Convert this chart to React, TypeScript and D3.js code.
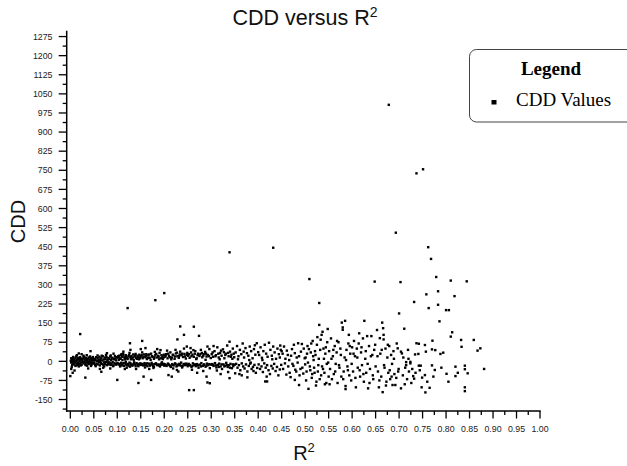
import React from 'react';
import * as d3 from 'd3';

type Pt = [number, number];

// R², CDD pairs, grouped by R² range
const points000to005: Pt[] = [
  [0.001,2],[0.002,-5],[0.003,6],[0.004,-2],[0.005,10],[0.006,-8],[0.007,3],[0.008,-12],[0.009,8],[0.010,-3],
  [0.011,14],[0.012,0],[0.013,-9],[0.014,5],[0.015,-15],[0.016,12],[0.017,-4],[0.018,7],[0.019,-11],[0.020,1],
  [0.021,16],[0.022,-6],[0.023,9],[0.024,-14],[0.025,4],[0.026,-1],[0.027,11],[0.028,-8],[0.029,18],[0.030,-3],
  [0.031,6],[0.032,-12],[0.033,13],[0.034,-5],[0.035,2],[0.036,-17],[0.037,9],[0.038,-7],[0.039,15],[0.040,0],
  [0.041,-10],[0.042,7],[0.043,-2],[0.044,12],[0.045,-13],[0.046,4],[0.047,-6],[0.048,17],[0.049,-9],[0.050,3],
  [0.002,12],[0.004,-14],[0.006,17],[0.008,0],[0.011,-18],[0.013,20],[0.016,-7],[0.019,14],[0.022,-16],[0.024,10],
  [0.027,-4],[0.030,15],[0.033,-15],[0.036,8],[0.039,-9],[0.042,19],[0.045,-4],[0.048,9],[0.003,-22],[0.018,-20],
  [0.028,22],[0.035,24],[0.044,-18],[0.014,24],
  [0.000,-58],[0.005,-45],[0.002,-30],[0.009,-36],[0.021,107],[0.018,31],[0.032,-64],[0.043,40],[0.024,28],[0.038,-28],
];

const points005to010: Pt[] = [
  [0.051,-6],[0.052,10],[0.053,-14],[0.054,4],[0.055,16],[0.056,-9],[0.057,1],[0.058,13],[0.059,-12],[0.060,6],
  [0.061,-3],[0.062,18],[0.063,-16],[0.064,8],[0.065,-7],[0.066,12],[0.067,-10],[0.068,3],[0.069,20],[0.070,-13],
  [0.071,7],[0.072,-4],[0.073,15],[0.074,-11],[0.075,9],[0.076,-2],[0.077,17],[0.078,-15],[0.079,5],[0.080,-8],
  [0.081,13],[0.082,-12],[0.083,10],[0.084,-5],[0.085,19],[0.086,-14],[0.087,6],[0.088,-9],[0.089,14],[0.090,-3],
  [0.091,11],[0.092,-16],[0.093,8],[0.094,-7],[0.095,21],[0.096,-11],[0.097,4],[0.098,-13],[0.099,16],[0.100,-6],
  [0.054,-19],[0.058,23],[0.063,2],[0.067,22],[0.072,-20],[0.076,25],[0.081,-1],[0.086,23],[0.091,-19],[0.096,12],
  [0.066,-41],[0.063,-30],[0.078,32],[0.085,-28],[0.100,-73],[0.092,30],[0.070,-25],
];

const points010to015: Pt[] = [
  [0.101,15],[0.104,22],[0.107,10],[0.110,18],[0.113,26],[0.116,12],[0.119,20],[0.122,9],[0.125,24],[0.128,16],
  [0.131,11],[0.134,27],[0.137,19],[0.140,13],[0.143,22],[0.146,8],[0.149,17],[0.103,6],[0.112,30],[0.121,14],
  [0.130,21],[0.139,29],[0.148,12],[0.108,25],[0.117,7],[0.126,33],[0.135,5],[0.144,18],
  [0.102,-9],[0.105,-14],[0.108,-6],[0.111,-12],[0.114,-18],[0.117,-8],[0.120,-15],[0.123,-10],[0.126,-5],[0.129,-13],
  [0.132,-17],[0.135,-9],[0.138,-12],[0.141,-7],[0.144,-16],[0.147,-11],[0.150,-14],[0.106,-20],[0.118,-3],[0.127,-21],
  [0.136,-4],[0.145,-19],
  [0.122,209],[0.127,71],[0.128,45],[0.120,-25],[0.145,-85],[0.153,80],[0.150,48],[0.113,38],[0.140,-30],[0.116,-30],
];

const points015to020: Pt[] = [
  [0.151,20],[0.154,12],[0.157,27],[0.160,16],[0.163,9],[0.166,23],[0.169,14],[0.172,30],[0.175,18],[0.178,10],
  [0.181,25],[0.184,15],[0.187,21],[0.190,33],[0.193,12],[0.196,19],[0.199,26],[0.153,35],[0.162,28],[0.171,6],
  [0.180,37],[0.189,8],[0.198,14],
  [0.152,-10],[0.155,-16],[0.158,-7],[0.161,-13],[0.164,-19],[0.167,-9],[0.170,-14],[0.173,-6],[0.176,-18],[0.179,-11],
  [0.182,-8],[0.185,-15],[0.188,-12],[0.191,-20],[0.194,-9],[0.197,-13],[0.200,-17],[0.159,-24],[0.177,-26],[0.195,-4],
  [0.156,-60],[0.172,-73],[0.181,240],[0.200,268],[0.192,44],[0.185,48],[0.168,-30],[0.160,52],
];

const points020to025: Pt[] = [
  [0.201,18],[0.204,28],[0.207,12],[0.210,22],[0.213,35],[0.216,15],[0.219,26],[0.222,10],[0.225,31],[0.228,20],
  [0.231,14],[0.234,38],[0.237,24],[0.240,17],[0.243,29],[0.246,11],[0.249,33],[0.206,42],[0.215,8],[0.224,45],
  [0.233,27],[0.242,50],
  [0.202,-12],[0.205,-18],[0.208,-9],[0.211,-15],[0.214,-22],[0.217,-11],[0.220,-16],[0.223,-8],[0.226,-20],[0.229,-13],
  [0.232,-10],[0.235,-17],[0.238,-24],[0.241,-12],[0.244,-15],[0.247,-9],[0.250,-19],[0.219,-28],[0.236,-5],
  [0.209,-54],[0.216,-60],[0.227,-34],[0.228,86],[0.242,104],[0.234,137],[0.253,-113],[0.230,-40],[0.248,58],
];

const points025to030: Pt[] = [
  [0.251,22],[0.254,14],[0.257,35],[0.260,26],[0.263,18],[0.266,40],[0.269,12],[0.272,30],[0.275,21],[0.278,45],
  [0.281,16],[0.284,28],[0.287,37],[0.290,19],[0.293,25],[0.296,48],[0.299,13],[0.256,52],[0.268,9],[0.280,33],
  [0.292,58],[0.262,44],[0.288,6],
  [0.252,-10],[0.255,-16],[0.258,-22],[0.261,-8],[0.264,-14],[0.267,-19],[0.270,-11],[0.273,-25],[0.276,-13],[0.279,-7],
  [0.282,-18],[0.285,-12],[0.288,-21],[0.291,-9],[0.294,-15],[0.297,-27],[0.300,-13],[0.259,-33],[0.283,-38],
  [0.263,-113],[0.263,136],[0.274,100],[0.292,-83],[0.297,-86],[0.290,-60],[0.270,-45],
];

const points030to035: Pt[] = [
  [0.301,28],[0.304,18],[0.307,40],[0.310,24],[0.313,55],[0.316,15],[0.319,33],[0.322,22],[0.325,47],[0.328,12],
  [0.331,30],[0.334,62],[0.337,20],[0.340,38],[0.343,26],[0.346,50],[0.349,16],[0.305,60],[0.318,8],[0.327,36],
  [0.339,77],[0.345,10],
  [0.302,-11],[0.305,-18],[0.308,-7],[0.311,-24],[0.314,-14],[0.317,-9],[0.320,-20],[0.323,-30],[0.326,-12],[0.329,-17],
  [0.332,-6],[0.335,-22],[0.338,-15],[0.341,-10],[0.344,-27],[0.347,-19],[0.350,-13],[0.312,-36],[0.336,-42],
  [0.339,428],[0.339,-66],[0.351,-47],[0.320,-50],
];

const points035to040: Pt[] = [
  [0.352,35],[0.355,60],[0.358,20],[0.361,45],[0.364,28],[0.367,70],[0.370,15],[0.373,52],[0.376,32],[0.379,22],
  [0.382,58],[0.385,40],[0.388,12],[0.391,48],[0.394,26],[0.397,71],[0.400,36],[0.357,8],[0.369,38],[0.381,5],
  [0.393,63],
  [0.353,-10],[0.356,-25],[0.359,-15],[0.362,-35],[0.365,-8],[0.368,-20],[0.371,-28],[0.374,-12],[0.377,-40],[0.380,-18],
  [0.383,-9],[0.386,-30],[0.389,-22],[0.392,-14],[0.395,-45],[0.398,-26],[0.360,-50],[0.384,-5],
  [0.377,-63],[0.365,-55],[0.390,-38],
];

const points040to045: Pt[] = [
  [0.402,25],[0.405,55],[0.408,14],[0.411,40],[0.414,65],[0.417,30],[0.420,18],[0.423,73],[0.426,45],[0.429,22],
  [0.432,58],[0.435,35],[0.438,10],[0.441,50],[0.444,28],[0.447,62],[0.450,40],[0.409,5],[0.430,8],[0.446,15],
  [0.401,-12],[0.404,-30],[0.407,-20],[0.410,-42],[0.413,-8],[0.416,-25],[0.419,-15],[0.422,-35],[0.425,-50],[0.428,-18],
  [0.431,-28],[0.434,-10],[0.437,-38],[0.440,-22],[0.443,-55],[0.446,-32],[0.449,-14],[0.418,-60],
  [0.432,446],[0.415,-79],[0.419,-79],[0.448,45],
];

const points045to050: Pt[] = [
  [0.452,30],[0.455,58],[0.458,10],[0.461,42],[0.464,-20],[0.467,-45],[0.470,22],[0.473,-10],[0.476,65],[0.479,-33],
  [0.482,15],[0.485,71],[0.488,-55],[0.491,38],[0.494,-25],[0.497,50],[0.500,-12],[0.453,-30],[0.457,-8],[0.460,-52],
  [0.463,25],[0.466,5],[0.469,-62],[0.472,48],[0.475,-18],[0.478,32],[0.481,-40],[0.484,-5],[0.487,20],[0.490,-30],
  [0.493,68],[0.496,-48],[0.499,12],[0.478,-73],[0.487,-93],
];

const points050to055: Pt[] = [
  [0.501,15],[0.503,-40],[0.505,60],[0.507,-108],[0.509,323],[0.510,-20],[0.512,35],[0.514,-65],[0.516,80],[0.518,5],
  [0.520,-45],[0.522,25],[0.524,-80],[0.526,95],[0.528,-15],[0.530,229],[0.530,143],[0.532,45],[0.534,-55],[0.535,104],
  [0.537,116],[0.538,-30],[0.540,10],[0.542,-90],[0.544,55],[0.546,-10],[0.548,127],[0.550,-60],[0.502,-75],[0.504,30],
  [0.506,-5],[0.508,48],[0.511,-35],[0.513,70],[0.515,-50],[0.517,20],[0.519,-25],[0.521,40],[0.523,-95],[0.525,65],
  [0.527,-40],[0.529,10],[0.531,-70],[0.533,85],[0.536,-20],[0.539,50],[0.541,-45],[0.543,30],[0.545,-85],[0.547,75],
  [0.549,-5],
];

const points055to060: Pt[] = [
  [0.551,40],[0.553,-30],[0.555,90],[0.557,-70],[0.559,20],[0.561,-50],[0.563,60],[0.565,-10],[0.567,35],[0.569,-85],
  [0.571,75],[0.573,-25],[0.575,50],[0.577,-60],[0.578,152],[0.580,133],[0.580,124],[0.582,-40],[0.584,15],[0.585,159],
  [0.586,-97],[0.586,-109],[0.588,45],[0.590,-20],[0.592,70],[0.593,104],[0.594,-55],[0.596,30],[0.598,-75],[0.600,55],
  [0.552,-90],[0.556,10],[0.560,45],[0.564,-40],[0.568,80],[0.572,-15],[0.576,25],[0.581,-70],[0.587,5],[0.591,-35],
  [0.595,60],[0.599,-10],
];

const points060to065: Pt[] = [
  [0.602,-40],[0.604,80],[0.606,20],[0.608,-102],[0.610,50],[0.612,-25],[0.614,70],[0.615,110],[0.617,-60],[0.619,35],
  [0.621,-15],[0.623,90],[0.625,-80],[0.626,159],[0.628,10],[0.630,-45],[0.632,99],[0.634,-106],[0.636,60],[0.638,-30],
  [0.641,99],[0.643,25],[0.645,-70],[0.647,45],[0.648,313],[0.650,-20],[0.603,30],[0.607,-65],[0.611,15],[0.616,-35],
  [0.620,55],[0.624,-50],[0.629,40],[0.633,-10],[0.637,-85],[0.640,20],[0.644,-55],[0.649,65],
];

const points065to070: Pt[] = [
  [0.653,123],[0.655,-40],[0.657,-102],[0.659,91],[0.660,30],[0.662,-60],[0.664,152],[0.665,-121],[0.666,130],[0.667,104],
  [0.667,86],[0.669,-25],[0.671,50],[0.673,-80],[0.675,15],[0.677,-45],[0.678,1007],[0.679,60],[0.681,-70],[0.683,25],
  [0.685,-10],[0.686,-93],[0.688,40],[0.690,-50],[0.692,-93],[0.693,505],[0.695,70],[0.697,51],[0.699,-30],[0.700,188],
  [0.654,20],[0.658,-75],[0.663,45],[0.668,-15],[0.672,-95],[0.676,65],[0.680,-35],[0.684,-60],[0.689,10],[0.694,-65],
  [0.698,-40],
];

const points070to075: Pt[] = [
  [0.703,311],[0.704,38],[0.704,-106],[0.706,31],[0.708,-55],[0.711,128],[0.713,-25],[0.715,-3],[0.715,-15],[0.717,-70],
  [0.719,45],[0.721,-40],[0.724,-2],[0.724,-8],[0.726,-85],[0.730,-58],[0.732,-68],[0.732,233],[0.734,27],[0.737,738],
  [0.737,71],[0.741,29],[0.742,69],[0.742,-17],[0.746,-17],[0.748,-102],[0.749,-64],[0.751,754],[0.709,15],[0.712,-90],
  [0.720,10],[0.728,-30],[0.735,-45],[0.744,-35],
];

const points075to080: Pt[] = [
  [0.755,64],[0.755,-54],[0.756,-122],[0.757,38],[0.758,263],[0.762,448],[0.763,209],[0.765,-104],[0.768,402],[0.770,47],
  [0.770,-16],[0.771,81],[0.776,-34],[0.777,44],[0.779,331],[0.783,222],[0.783,275],[0.786,157],[0.788,29],[0.794,34],
  [0.800,201],[0.801,-49],[0.760,-80],[0.773,-60],[0.790,-25],
];

const points080to090: Pt[] = [
  [0.806,201],[0.810,97],[0.810,317],[0.813,114],[0.818,256],[0.820,-21],[0.820,-58],[0.825,-45],[0.832,84],[0.833,57],
  [0.840,-17],[0.840,-31],[0.840,-102],[0.840,-117],[0.844,314],[0.846,-47],[0.859,84],[0.867,42],[0.873,51],[0.881,-30],
  [0.805,-80],
];

// extra points filling the dense double band between 0.10 and 0.35
const bandPoints010to035: Pt[] = [
  [0.102,20],[0.105,12],[0.109,28],[0.111,5],[0.115,16],[0.118,24],[0.124,19],[0.129,8],[0.133,15],[0.138,23],
  [0.142,10],[0.147,26],[0.104,-11],[0.109,-16],[0.113,-7],[0.119,-12],[0.124,-17],[0.128,-8],[0.133,-13],[0.139,-19],
  [0.143,-10],[0.149,-8],
  [0.152,24],[0.156,17],[0.161,22],[0.165,13],[0.168,27],[0.174,20],[0.179,16],[0.183,29],[0.188,18],[0.194,24],
  [0.197,9],[0.154,-12],[0.159,-15],[0.163,-8],[0.169,-17],[0.174,-12],[0.178,-21],[0.183,-10],[0.189,-16],[0.193,-13],
  [0.199,-10],
  [0.203,22],[0.208,30],[0.212,16],[0.218,24],[0.223,19],[0.227,34],[0.232,21],[0.238,30],[0.244,19],[0.248,25],
  [0.203,-15],[0.209,-12],[0.213,-18],[0.218,-14],[0.224,-11],[0.228,-17],[0.233,-14],[0.239,-19],[0.243,-10],[0.249,-14],
  [0.253,28],[0.258,20],[0.265,30],[0.271,24],[0.277,28],[0.283,22],[0.289,30],[0.295,20],[0.254,-14],[0.260,-18],
  [0.266,-12],[0.272,-16],[0.278,-20],[0.284,-14],[0.290,-17],[0.296,-11],
  [0.303,35],[0.309,20],[0.315,30],[0.321,42],[0.330,25],[0.336,33],[0.342,18],[0.348,30],[0.304,-14],[0.310,-16],
  [0.316,-22],[0.322,-12],[0.328,-20],[0.334,-15],[0.340,-25],[0.346,-12],
];

const allPoints: Pt[] = [
  ...points000to005, ...points005to010, ...points010to015, ...points015to020,
  ...points020to025, ...points025to030, ...points030to035, ...points035to040,
  ...points040to045, ...points045to050, ...points050to055, ...points055to060,
  ...points060to065, ...points065to070, ...points070to075, ...points075to080,
  ...points080to090, ...bandPoints010to035,
];

const yTickValues = [-150,-75,0,75,150,225,300,375,450,525,600,675,750,825,900,975,1050,1125,1200,1275];
const yMinorValues = [-187.5,-112.5,-37.5,37.5,112.5,187.5,262.5,337.5,412.5,487.5,562.5,637.5,712.5,787.5,862.5,937.5,1012.5,1087.5,1162.5,1237.5];
const xTickValues = [0,0.05,0.1,0.15,0.2,0.25,0.3,0.35,0.4,0.45,0.5,0.55,0.6,0.65,0.7,0.75,0.8,0.85,0.9,0.95,1.0];
const xMinorValues = [0.025,0.075,0.125,0.175,0.225,0.275,0.325,0.375,0.425,0.475,0.525,0.575,0.625,0.675,0.725,0.775,0.825,0.875,0.925,0.975];

const W = 627;
const H = 466;
const SANS = '"Liberation Sans", Arial, sans-serif';
const SERIF = '"Liberation Serif", "Times New Roman", serif';

export default function App() {
  const x = d3.scaleLinear().domain([-0.0077, 1.0]).range([66.7, 540]);
  const y = d3.scaleLinear().domain([-195, 1298]).range([411, 30.7]);
  const x0 = x.range()[0];
  const yBottom = y.range()[0];
  const yTop = y.range()[1];
  const s = 2.4;

  return (
    <svg width={W} height={H} style={{ position: 'absolute', left: 0, top: 0, background: '#fff' }}>
      <rect x={0} y={0} width={W} height={H} fill="#fff" />
      {/* title */}
      <text x={305} y={25} textAnchor="middle" fontFamily={SANS} fontSize={21.5} fill="#111">
        CDD versus R<tspan dy={-8} fontSize={14}>2</tspan>
      </text>

      {/* y axis */}
      <line x1={x0} x2={x0} y1={yTop} y2={yBottom + 0.75} stroke="#000" strokeWidth={1.5} />
      {yTickValues.map((v) => (
        <g key={'yt' + v}>
          <line x1={x0 - 8} x2={x0} y1={y(v)} y2={y(v)} stroke="#000" strokeWidth={1.3} />
          <text x={52.5} y={y(v) + 3.2} textAnchor="end" fontFamily={SANS} fontSize={8.8} fill="#222">{v}</text>
        </g>
      ))}
      {yMinorValues.map((v) => (
        <line key={'ym' + v} x1={x0 - 4} x2={x0} y1={y(v)} y2={y(v)} stroke="#000" strokeWidth={1.3} />
      ))}

      {/* x axis */}
      <line x1={x0 - 0.75} x2={x(1.0) + 0.7} y1={yBottom} y2={yBottom} stroke="#000" strokeWidth={1.5} />
      {xTickValues.map((v) => (
        <g key={'xt' + v}>
          <line x1={x(v)} x2={x(v)} y1={yBottom} y2={yBottom + 7.5} stroke="#000" strokeWidth={1.3} />
          <text x={x(v)} y={431.5} textAnchor="middle" fontFamily={SANS} fontSize={8.8} fill="#222">{v.toFixed(2)}</text>
        </g>
      ))}
      {xMinorValues.map((v) => (
        <line key={'xm' + v} x1={x(v)} x2={x(v)} y1={yBottom} y2={yBottom + 4} stroke="#000" strokeWidth={1.3} />
      ))}

      {/* axis titles */}
      <text transform={`translate(25,221.5) rotate(-90)`} textAnchor="middle" fontFamily={SANS} fontSize={20} fill="#111">CDD</text>
      <text x={304} y={460} textAnchor="middle" fontFamily={SANS} fontSize={20} fill="#111">
        R<tspan dy={-8} fontSize={13}>2</tspan>
      </text>

      {/* points */}
      <g>
        {allPoints.map(([r, c], i) => (
          <rect key={i} x={x(r) - s / 2} y={y(c) - s / 2} width={s} height={s} fill="#000" />
        ))}
      </g>

      {/* legend */}
      <rect x={469.5} y={49.5} width={170} height={72.5} rx={7} ry={7} fill="#fff" stroke="#444" strokeWidth={1} />
      <text x={551} y={75} textAnchor="middle" fontFamily={SERIF} fontWeight="bold" fontSize={19} fill="#000">Legend</text>
      <rect x={491.5} y={100} width={5} height={4.5} fill="#000" />
      <text x={516} y={106} fontFamily={SERIF} fontSize={19} fill="#000">CDD Values</text>
    </svg>
  );
}
